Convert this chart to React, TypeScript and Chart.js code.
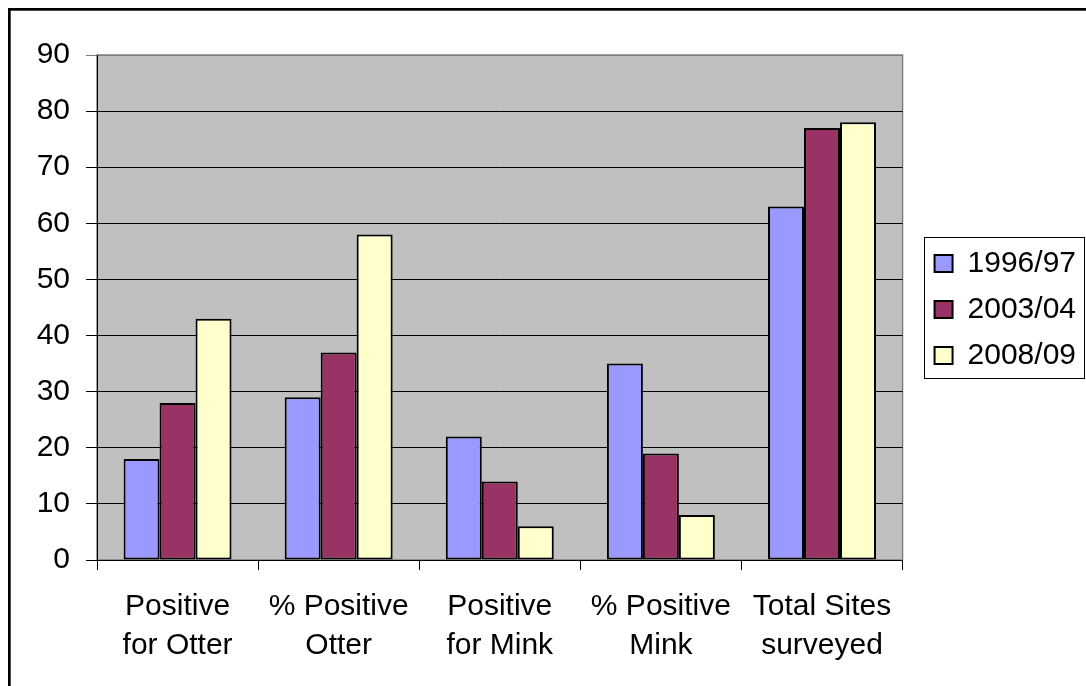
import React, { useEffect, useRef } from "react";
import { Chart, registerables } from "chart.js";

Chart.register(...registerables);

const categories: string[][] = [
  ["Positive", "for Otter"],
  ["% Positive", "Otter"],
  ["Positive", "for Mink"],
  ["% Positive", "Mink"],
  ["Total Sites", "surveyed"],
];
const seriesNames = ["1996/97", "2003/04", "2008/09"];
const values1996 = [18, 29, 22, 35, 63];
const values2003 = [28, 37, 14, 19, 77];
const values2008 = [43, 58, 6, 8, 78];
const yTicks = [0, 10, 20, 30, 40, 50, 60, 70, 80, 90];

const FONT = "'Liberation Sans', Arial, sans-serif";

const framePlugin = {
  id: "framePlugin",
  beforeDraw(chart: any) {
    const { ctx, chartArea } = chart;
    ctx.save();
    ctx.fillStyle = "#C0C0C0";
    ctx.fillRect(chartArea.left, chartArea.top, chartArea.right - chartArea.left, chartArea.bottom - chartArea.top);
    ctx.strokeStyle = "#808080";
    ctx.lineWidth = 1.5;
    ctx.strokeRect(chartArea.left, chartArea.top, chartArea.right - chartArea.left, chartArea.bottom - chartArea.top);
    ctx.restore();
  },
  afterDraw(chart: any) {
    const { ctx } = chart;
    ctx.save();
    // outer frame (top and left edges visible)
    ctx.fillStyle = "#000";
    ctx.fillRect(8, 8, chart.width, 2.7);
    ctx.fillRect(8, 8, 2.7, chart.height);
    // legend border
    const lg = chart.legend;
    if (lg && lg.legendHitBoxes && lg.legendHitBoxes.length) {
      const hb = lg.legendHitBoxes;
      const first = hb[0];
      const last = hb[hb.length - 1];
      const left = first.left - 11;
      const top = first.top - 11.5;
      const bottom = last.top + last.height + 7.5;
      const right = chart.width - 1;
      ctx.strokeStyle = "#000";
      ctx.lineWidth = 1;
      ctx.strokeRect(Math.round(left) + 0.5, Math.round(top) + 0.5, Math.round(right - left) - 1, Math.round(bottom - top));
    }
    ctx.restore();
  },
};

export default function App() {
  const ref = useRef<HTMLCanvasElement | null>(null);
  useEffect(() => {
    if (!ref.current) return;
    const chart = new Chart(ref.current, {
      type: "bar",
      data: {
        labels: categories,
        datasets: [
          { label: seriesNames[0], data: values1996, backgroundColor: "#9999FF", borderColor: "#000", borderWidth: 2, borderSkipped: false },
          { label: seriesNames[1], data: values2003, backgroundColor: "#993366", borderColor: "#000", borderWidth: 2, borderSkipped: false },
          { label: seriesNames[2], data: values2008, backgroundColor: "#FFFFCC", borderColor: "#000", borderWidth: 2, borderSkipped: false },
        ],
      },
      options: {
        animation: false,
        responsive: false,
        devicePixelRatio: 1,
        layout: { padding: { top: 55, left: 0, right: 0, bottom: 0 } },
        datasets: { bar: { categoryPercentage: 0.67, barPercentage: 1.0 } },
        plugins: {
          legend: {
            display: true,
            position: "right",
            fullSize: false,
            align: "center",
            title: { display: true, text: " ", font: { size: 4, lineHeight: 1 }, padding: 0, color: "rgba(0,0,0,0)" },
            labels: {
              font: { family: FONT, size: 30 },
              color: "#000",
              boxWidth: 18,
              boxHeight: 17,
              padding: 16,
            },
          },
          tooltip: { enabled: false },
        },
        scales: {
          x: {
            type: "category",
            offset: true,
            grid: { display: true, drawOnChartArea: false, drawTicks: true, tickLength: 10, color: "#000", offset: true },
            border: { display: true, color: "#000", width: 1 },
            ticks: {
              font: { family: FONT, size: 30, lineHeight: 1.3 },
              color: "#000",
              padding: 17.5,
              maxRotation: 0,
              minRotation: 0,
              autoSkip: false,
            },
            afterFit: (s: any) => { s.height = 126; },
          },
          y: {
            type: "linear",
            min: 0,
            max: 90,
            afterBuildTicks: (s: any) => { s.ticks = yTicks.map((v) => ({ value: v })); },
            grid: {
              color: (c: any) => (c.tick && c.tick.value === 90 ? "#808080" : "#000"),
              lineWidth: 1,
              tickLength: 11,
              drawTicks: true,
            },
            border: { display: true, color: "#000", width: 1 },
            ticks: {
              font: { family: FONT, size: 30 },
              color: "#000",
              padding: 16,
            },
            afterFit: (s: any) => { s.width = 97; },
          },
          spacer: {
            type: "linear",
            position: "right",
            display: true,
            grid: { display: false },
            border: { display: false },
            ticks: { display: false },
            afterFit: (s: any) => { s.width = 16; },
          },
        },
      },
      plugins: [framePlugin],
    } as any);
    return () => chart.destroy();
  }, []);
  return (
    <div style={{ position: "absolute", left: 0, top: 0, width: 1086, height: 686 }}>
      <canvas ref={ref} width={1086} height={686} style={{ width: 1086, height: 686, display: "block" }} />
    </div>
  );
}
